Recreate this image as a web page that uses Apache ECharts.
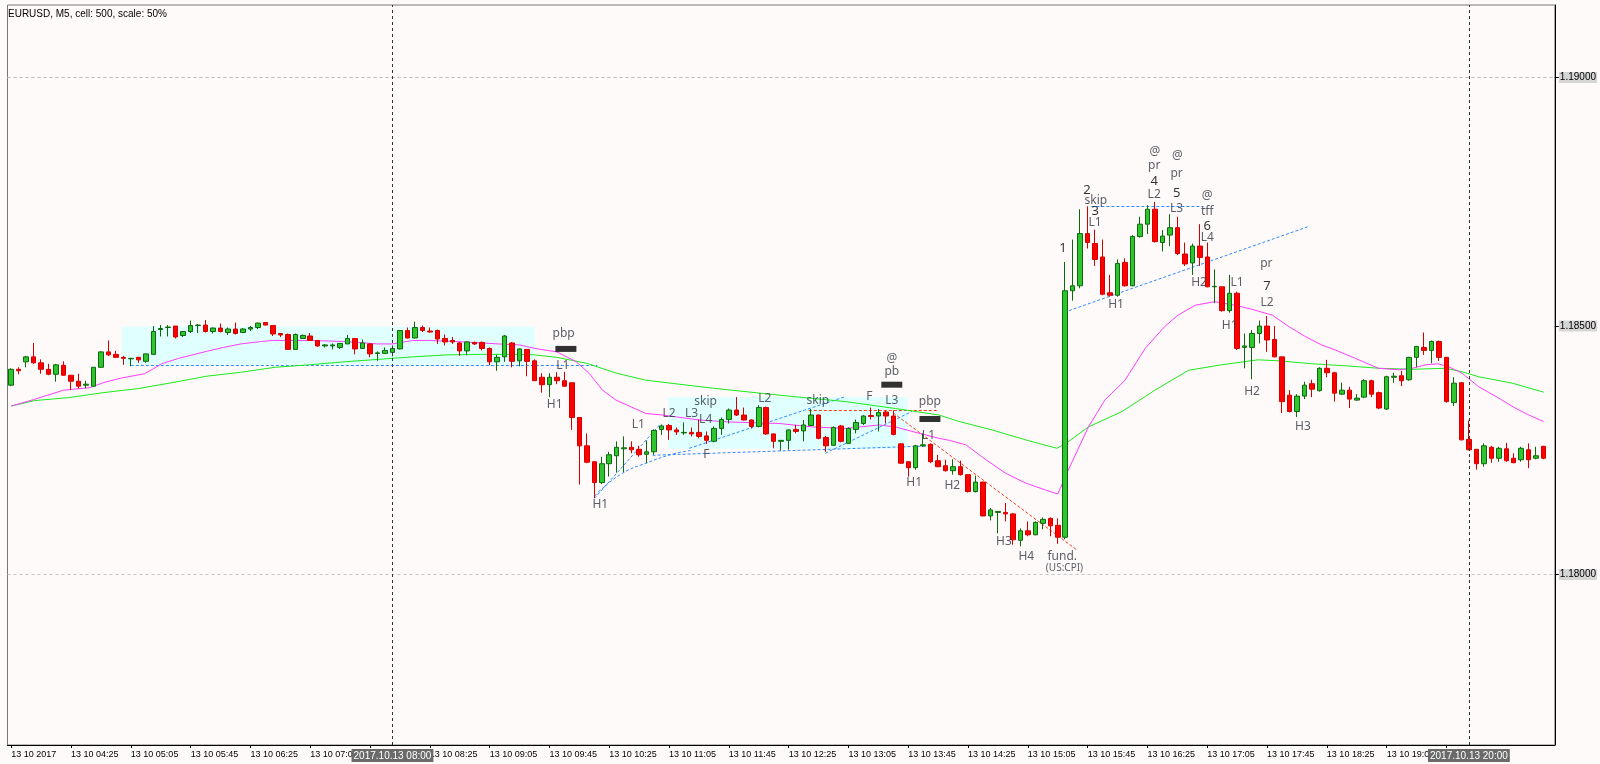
<!DOCTYPE html>
<html><head><meta charset="utf-8">
<script src="https://cdn.jsdelivr.net/npm/echarts@6/dist/echarts.min.js"></script>
<style>html,body{margin:0;padding:0;background:#fffafa;}#c{width:1600px;height:764px;}</style>
</head><body><div id="c"></div>
<script>
// ---------- DATA ----------
const opens=[1.18381,1.18413,1.18428,1.18438,1.18426,1.18413,1.18403,1.18421,1.18401,1.18389,
1.18381,1.18379,1.18417,1.18448,1.18443,1.18437,1.18434,1.18437,1.18429,1.18443,
1.18493,1.18497,1.18500,1.18481,1.18489,1.18501,1.18502,1.18489,1.18496,1.18487,
1.18494,1.18487,1.18494,1.18497,1.18507,1.18501,1.18485,1.18483,1.18453,1.18475,
1.18480,1.18471,1.18460,1.18460,1.18457,1.18464,1.18475,1.18455,1.18464,1.18445,
1.18445,1.18447,1.18454,1.18491,1.18476,1.18497,1.18490,1.18491,1.18475,1.18471,
1.18466,1.18450,1.18467,1.18467,1.18455,1.18428,1.18438,1.18466,1.18430,1.18453,
1.18430,1.18397,1.18382,1.18397,1.18390,1.18386,1.18316,1.18259,1.18227,1.18185,
1.18223,1.18239,1.18253,1.18256,1.18252,1.18242,1.18247,1.18292,1.18300,1.18291,
1.18285,1.18286,1.18286,1.18279,1.18268,1.18294,1.18312,1.18331,1.18321,1.18311,
1.18298,1.18336,1.18283,1.18268,1.18270,1.18292,1.18289,1.18300,1.18321,1.18276,
1.18260,1.18299,1.18264,1.18292,1.18304,1.18320,1.18319,1.18327,1.18319,1.18263,
1.18227,1.18215,1.18259,1.18262,1.18229,1.18219,1.18209,1.18217,1.18201,1.18167,
1.18186,1.18118,1.18125,1.18125,1.18122,1.18069,1.18088,1.18080,1.18103,1.18113,
1.18099,1.18075,1.18571,1.18581,1.18686,1.18666,1.18639,1.18567,1.18562,1.18628,
1.18581,1.18680,1.18705,1.18735,1.18668,1.18683,1.18698,1.18645,1.18627,1.18661,
1.18639,1.18579,1.18579,1.18531,1.18566,1.18457,1.18457,1.18485,1.18500,1.18473,
1.18438,1.18361,1.18328,1.18359,1.18384,1.18370,1.18415,1.18406,1.18363,1.18371,
1.18351,1.18357,1.18390,1.18366,1.18333,1.18397,1.18400,1.18392,1.18437,1.18457,
1.18451,1.18469,1.18437,1.18346,1.18386,1.18272,1.18252,1.18223,1.18256,1.18234,
1.18253,1.18234,1.18231,1.18251,1.18234,1.18258];
const closes=[1.18413,1.18410,1.18438,1.18426,1.18413,1.18403,1.18422,1.18401,1.18389,1.18379,
1.18383,1.18417,1.18448,1.18442,1.18437,1.18435,1.18435,1.18432,1.18444,1.18489,
1.18495,1.18498,1.18478,1.18489,1.18501,1.18502,1.18489,1.18496,1.18489,1.18494,
1.18485,1.18494,1.18497,1.18506,1.18502,1.18484,1.18482,1.18453,1.18483,1.18481,
1.18471,1.18460,1.18462,1.18462,1.18465,1.18475,1.18454,1.18466,1.18444,1.18446,
1.18451,1.18455,1.18491,1.18476,1.18497,1.18491,1.18488,1.18474,1.18468,1.18468,
1.18450,1.18468,1.18464,1.18455,1.18428,1.18437,1.18480,1.18429,1.18454,1.18429,
1.18390,1.18382,1.18397,1.18390,1.18379,1.18316,1.18259,1.18226,1.18185,1.18223,
1.18241,1.18256,1.18255,1.18251,1.18241,1.18247,1.18290,1.18299,1.18291,1.18287,
1.18286,1.18283,1.18278,1.18270,1.18294,1.18312,1.18331,1.18321,1.18311,1.18298,
1.18336,1.18283,1.18268,1.18270,1.18291,1.18288,1.18301,1.18321,1.18274,1.18259,
1.18296,1.18268,1.18294,1.18306,1.18319,1.18318,1.18326,1.18319,1.18282,1.18224,
1.18215,1.18259,1.18261,1.18227,1.18217,1.18209,1.18217,1.18201,1.18167,1.18186,
1.18118,1.18130,1.18127,1.18122,1.18070,1.18088,1.18080,1.18105,1.18111,1.18098,
1.18075,1.18571,1.18581,1.18686,1.18668,1.18634,1.18564,1.18562,1.18626,1.18581,
1.18680,1.18705,1.18735,1.18670,1.18681,1.18698,1.18646,1.18625,1.18661,1.18638,
1.18579,1.18580,1.18531,1.18566,1.18455,1.18460,1.18485,1.18500,1.18472,1.18438,
1.18348,1.18328,1.18359,1.18381,1.18373,1.18415,1.18406,1.18365,1.18371,1.18353,
1.18355,1.18390,1.18363,1.18335,1.18398,1.18399,1.18390,1.18437,1.18459,1.18451,
1.18469,1.18437,1.18348,1.18385,1.18271,1.18251,1.18223,1.18259,1.18234,1.18254,
1.18229,1.18225,1.18254,1.18231,1.18239,1.18234];
const highs=[1.18415,1.18417,1.18440,1.18466,1.18433,1.18424,1.18424,1.18429,1.18401,1.18404,
1.18390,1.18417,1.18449,1.18471,1.18450,1.18440,1.18436,1.18438,1.18445,1.18500,
1.18502,1.18502,1.18500,1.18490,1.18511,1.18504,1.18512,1.18497,1.18505,1.18497,
1.18507,1.18496,1.18500,1.18507,1.18508,1.18502,1.18486,1.18485,1.18485,1.18483,
1.18486,1.18471,1.18464,1.18465,1.18466,1.18482,1.18476,1.18473,1.18466,1.18449,
1.18457,1.18461,1.18492,1.18497,1.18509,1.18501,1.18497,1.18493,1.18483,1.18478,
1.18468,1.18469,1.18469,1.18469,1.18457,1.18442,1.18482,1.18468,1.18455,1.18454,
1.18433,1.18405,1.18405,1.18407,1.18408,1.18386,1.18316,1.18284,1.18227,1.18237,
1.18247,1.18268,1.18278,1.18268,1.18259,1.18270,1.18292,1.18302,1.18303,1.18296,
1.18306,1.18296,1.18312,1.18288,1.18298,1.18316,1.18334,1.18357,1.18336,1.18312,
1.18341,1.18338,1.18284,1.18270,1.18292,1.18301,1.18311,1.18333,1.18322,1.18279,
1.18298,1.18301,1.18296,1.18312,1.18321,1.18336,1.18333,1.18330,1.18330,1.18264,
1.18228,1.18261,1.18284,1.18264,1.18241,1.18231,1.18232,1.18229,1.18202,1.18199,
1.18187,1.18134,1.18127,1.18144,1.18124,1.18093,1.18107,1.18107,1.18115,1.18115,
1.18113,1.18629,1.18674,1.18735,1.18741,1.18694,1.18674,1.18603,1.18634,1.18636,
1.18683,1.18720,1.18743,1.18750,1.18693,1.18725,1.18720,1.18668,1.18666,1.18705,
1.18668,1.18614,1.18579,1.18603,1.18569,1.18485,1.18492,1.18511,1.18520,1.18500,
1.18438,1.18371,1.18363,1.18388,1.18392,1.18417,1.18432,1.18408,1.18386,1.18378,
1.18363,1.18393,1.18392,1.18368,1.18400,1.18406,1.18410,1.18438,1.18460,1.18487,
1.18471,1.18471,1.18438,1.18397,1.18386,1.18310,1.18252,1.18264,1.18259,1.18257,
1.18265,1.18244,1.18257,1.18264,1.18257,1.18259];
const lows=[1.18379,1.18403,1.18417,1.18424,1.18404,1.18401,1.18388,1.18400,1.18371,1.18374,
1.18375,1.18378,1.18416,1.18440,1.18436,1.18422,1.18419,1.18426,1.18426,1.18442,
1.18479,1.18479,1.18475,1.18478,1.18486,1.18486,1.18487,1.18485,1.18487,1.18482,
1.18483,1.18486,1.18490,1.18494,1.18501,1.18480,1.18478,1.18453,1.18453,1.18475,
1.18471,1.18458,1.18457,1.18453,1.18454,1.18464,1.18443,1.18454,1.18437,1.18430,
1.18444,1.18439,1.18453,1.18475,1.18475,1.18488,1.18487,1.18464,1.18461,1.18464,
1.18440,1.18441,1.18462,1.18451,1.18421,1.18410,1.18428,1.18417,1.18419,1.18399,
1.18390,1.18366,1.18357,1.18383,1.18378,1.18291,1.18181,1.18224,1.18154,1.18182,
1.18197,1.18205,1.18206,1.18244,1.18237,1.18224,1.18241,1.18281,1.18271,1.18281,
1.18281,1.18278,1.18274,1.18263,1.18266,1.18281,1.18304,1.18319,1.18310,1.18294,
1.18296,1.18281,1.18254,1.18249,1.18251,1.18284,1.18268,1.18299,1.18272,1.18247,
1.18259,1.18266,1.18263,1.18284,1.18301,1.18312,1.18288,1.18304,1.18280,1.18223,
1.18197,1.18211,1.18257,1.18224,1.18216,1.18207,1.18201,1.18199,1.18165,1.18165,
1.18117,1.18109,1.18083,1.18107,1.18060,1.18057,1.18077,1.18079,1.18091,1.18077,
1.18062,1.18071,1.18551,1.18576,1.18656,1.18621,1.18562,1.18559,1.18559,1.18579,
1.18580,1.18678,1.18685,1.18668,1.18650,1.18661,1.18643,1.18621,1.18603,1.18621,
1.18578,1.18546,1.18529,1.18527,1.18452,1.18415,1.18393,1.18465,1.18448,1.18437,
1.18325,1.18326,1.18317,1.18353,1.18357,1.18368,1.18397,1.18348,1.18361,1.18335,
1.18350,1.18355,1.18357,1.18333,1.18331,1.18386,1.18379,1.18390,1.18417,1.18442,
1.18425,1.18430,1.18346,1.18339,1.18270,1.18250,1.18211,1.18217,1.18225,1.18227,
1.18227,1.18224,1.18227,1.18214,1.18232,1.18232];

// bar times (M5 bars starting 03:45) and bottom tick labels (one every 8 bars)
const firstBarMinute = 3*60+45;
const tickLabels=['13 10 2017','13 10 04:25','13 10 05:05','13 10 05:45','13 10 06:25','13 10 07:05','13 10 07:45',
'13 10 08:25','13 10 09:05','13 10 09:45','13 10 10:25','13 10 11:05','13 10 11:45','13 10 12:25','13 10 13:05',
'13 10 13:45','13 10 14:25','13 10 15:05','13 10 15:45','13 10 16:25','13 10 17:05','13 10 17:45','13 10 18:25',
'13 10 19:05','13 10 19:45'];
const priceTicks=[1.18,1.185,1.19];
const timeMarks=[[51,'2017.10.13 08:00'],[195,'2017.10.13 20:00']];

// moving averages: [bar position, price]
const maFast=[[0,1.18339],[3,1.18352],[7,1.18371],[10.5,1.18376],[12.3,1.18386],[14.6,1.18395],[17.8,1.18404],[19,1.18414],[20.1,1.18424],[22.4,1.18435],[26.1,1.18449],[28.4,1.18457],[30.7,1.18464],[33.5,1.18469],[35,1.18471],[40,1.18471],[44.5,1.18469],[49,1.18464],[51,1.18464],[53.7,1.18471],[56,1.18471],[60.6,1.18468],[65.2,1.18464],[68,1.18462],[70,1.18455],[73,1.18448],[75.6,1.18428],[77.3,1.18405],[79.1,1.18371],[80.9,1.18351],[84.9,1.18324],[87.1,1.18321],[92,1.18311],[96,1.18307],[102.7,1.18304],[107.2,1.18297],[111.6,1.18294],[116.1,1.18301],[118.3,1.18297],[120.5,1.18288],[124.1,1.18274],[125.5,1.18270],[127.7,1.18261],[130.4,1.18231],[133,1.18204],[135.7,1.18184],[138.4,1.18170],[140,1.18162],[141.4,1.18210],[144.1,1.18297],[146.3,1.18351],[149,1.18391],[151.7,1.18455],[154.3,1.18499],[156.1,1.18522],[158.4,1.18542],[161,1.18549],[163.7,1.18542],[165.9,1.18534],[168.7,1.18522],[170.9,1.18499],[173.1,1.18479],[175.3,1.18462],[177.1,1.18452],[179.8,1.18435],[182.9,1.18415],[185.6,1.18412],[187.4,1.18415],[189.2,1.18422],[190.9,1.18424],[192.3,1.18418],[194.1,1.18405],[196.3,1.18378],[199,1.18355],[201.2,1.18335],[203,1.18321],[205,1.18308]];
const maSlow=[[0,1.18339],[3.1,1.18350],[7.7,1.18356],[12.3,1.18366],[16.9,1.18374],[21.5,1.18386],[26.1,1.18399],[30.7,1.18407],[35.3,1.18417],[39.9,1.18422],[44.5,1.18428],[49.1,1.18433],[53.7,1.18438],[58.3,1.18442],[62.9,1.18443],[67.5,1.18443],[70,1.18442],[73,1.18437],[77,1.18425],[81,1.18405],[84.9,1.18391],[93.8,1.18375],[102.7,1.18361],[111.6,1.18348],[118.3,1.18334],[124.1,1.18321],[126.8,1.18308],[131.2,1.18291],[135.7,1.18271],[137.4,1.18264],[139.9,1.18254],[141.2,1.18265],[144.1,1.18297],[148.6,1.18328],[153,1.18371],[157.5,1.18411],[161.9,1.18422],[166.8,1.18432],[169.6,1.18430],[174.1,1.18424],[178.5,1.18420],[183,1.18415],[187.4,1.18413],[191.9,1.18415],[194.1,1.18408],[196.3,1.18398],[200.8,1.18385],[205,1.18367]];

// drawn objects: shaded zones [x1,price1,x2,price2]
const zones=[[14.8,1.18499,70,1.18422],[87.9,1.18357,119.9,1.18253]];
const blueLines=[[16,1.18422,78.4,1.18422],[78,1.18153,86.9,1.18304],[85.8,1.18240,123.2,1.18259],
[90.7,1.18254,111.6,1.18358],[108.9,1.18244,120.5,1.18328],[144.5,1.18741,159.5,1.18741],[141.5,1.18531,173.5,1.18700]];
const blueCurve=[[78.1,1.18158],[78.6,1.18167],[81.8,1.18204],[84.9,1.18224],[88.4,1.18242],[91,1.18250]];
const redLines=[[106.7,1.18331,124.1,1.18331],[118,1.18325,142.5,1.18050]];
const blockMarks=[[74.2,1.18454],[117.8,1.18382],[122.9,1.18313]];
const noteText=['pbp','L1','H1','H1','L1','L2','L3','skip','L4','L2','skip','F','F','L3','@','pb','pbp','L1','H1','H2','H3','H4','fund.','(US:CPI)',
'1','2','skip','3','L1','H1','@','pr','4','L2','@','pr','5','L3','@','tff','6','L4','H2','L1','pr','7','L2','H1','H2','H3'];
const noteX=[73.9,73.8,72.7,78.8,83.9,88.0,91.0,92.9,92.9,100.8,107.9,93.0,114.8,117.8,117.8,117.8,122.9,122.7,120.8,125.9,132.8,135.8,140.6,140.9,
140.7,143.9,145.1,145.0,145.0,147.8,153.0,152.9,152.9,152.9,156.0,155.9,155.9,155.9,160.0,160.0,160.0,160.0,158.9,164.0,167.9,168.0,168.0,163.0,166.0,172.8];
const noteY=[1.18484,1.18420,1.18342,1.18141,1.18301,1.18324,1.18324,1.18348,1.18312,1.18355,1.18351,1.18242,1.18359,1.18351,1.18435,1.18408,1.18348,1.18279,1.18186,1.18178,1.18067,1.18037,1.18037,1.18012,
1.18656,1.18773,1.18753,1.18730,1.18708,1.18543,1.18851,1.18822,1.18792,1.18765,1.18843,1.18806,1.18767,1.18736,1.18763,1.18730,1.18701,1.18679,1.18587,1.18587,1.18626,1.18580,1.18548,1.18500,1.18369,1.18297];

// ---------- BUILD ----------
const N=opens.length;
const categories=[];
for(let i=0;i<N;i++){const m=firstBarMinute+5*i;categories.push(String(Math.floor(m/60)).padStart(2,'0')+':'+String(m%60).padStart(2,'0'));}
categories.push('');
const lastTick=(tickLabels.length-1)*8;
const showTick=(i)=>i%8===0&&i<=lastTick;
const candleData=opens.map((o,i)=>[o,closes[i],lows[i],highs[i]]);
const seg=(a)=>[{coord:[a[0],a[1]]},{coord:[a[2],a[3]]}];
const notes=noteText.map((t,i)=>{
  const d={name:t,value:[noteX[i],noteY[i]]};
  if(/^\d$/.test(t)) d.label={color:'#000',fontSize:13};
  if(t==='(US:CPI)') d.label={fontSize:10};
  return d;
});
const FONT='Liberation Sans';
const chart=echarts.init(document.getElementById('c'),null,{renderer:'canvas',width:1600,height:764});
chart.setOption({
  animation:false,
  backgroundColor:'#fffafa',
  title:{text:'EURUSD, M5, cell: 500, scale: 50%',left:8,top:9,padding:0,
    textStyle:{fontSize:10,fontWeight:'normal',color:'#000',fontFamily:FONT}},
  grid:{left:7.5,right:43,top:5,bottom:19,show:true,borderColor:'#777',borderWidth:1,backgroundColor:'transparent'},
  xAxis:[{
    type:'category',data:categories,boundaryGap:true,
    axisLine:{show:true,onZero:false,lineStyle:{color:'#000',width:1}},
    axisTick:{show:true,alignWithLabel:true,interval:(i)=>showTick(i),length:3,lineStyle:{color:'#000'}},
    axisLabel:{interval:(i)=>showTick(i),formatter:(v,i)=>tickLabels[i/8]||'',align:'left',
      fontSize:9,color:'#000',margin:5,fontFamily:FONT},
    splitLine:{show:false}
  },{
    type:'value',min:-0.5,max:N+0.5,show:false,axisLine:{onZero:false}
  }],
  yAxis:{
    type:'value',position:'right',min:1.17657,max:1.19146,
    splitLine:{show:false},
    axisLine:{show:true,onZero:false,lineStyle:{color:'#000'}},
    axisTick:{show:true,customValues:priceTicks,length:4,lineStyle:{color:'#000'}},
    axisLabel:{customValues:priceTicks,formatter:(v)=>v.toFixed(5),fontSize:10,color:'#000',
      backgroundColor:'#d6d6d6',padding:[1,1,0,1],margin:4,fontFamily:FONT}
  },
  series:[
    {type:'line',xAxisIndex:1,data:[[-5,1.18]],symbol:'none',silent:true,z:1,
      markArea:{silent:true,z:1,itemStyle:{color:'#e0ffff'},data:zones.map(a=>seg(a))},
      markLine:{silent:true,z:1,symbol:['none','none'],label:{show:false},
        lineStyle:{color:'#c4c4c4',type:[3,3],width:1},
        data:priceTicks.map(v=>({yAxis:v}))}},
    {type:'line',xAxisIndex:1,data:maSlow,symbol:'none',z:2,silent:true,
      lineStyle:{color:'#1aeb1a',width:1}},
    {type:'line',xAxisIndex:1,data:maFast,symbol:'none',z:2,silent:true,
      lineStyle:{color:'#ff3cff',width:1}},
    {type:'line',xAxisIndex:1,data:blueCurve,symbol:'none',z:2,silent:true,smooth:true,
      lineStyle:{color:'#2f8cff',type:[3,2],width:1},
      markLine:{silent:true,z:2,symbol:['none','none'],label:{show:false},
        lineStyle:{color:'#2f8cff',type:[3,2],width:1},data:blueLines.map(seg)}},
    {type:'line',xAxisIndex:1,data:[[-5,1.18]],symbol:'none',silent:true,z:2,
      markLine:{silent:true,z:2,symbol:['none','none'],label:{show:false},
        lineStyle:{color:'#ff3a1a',type:[3,2],width:1},data:redLines.map(seg)}},
    {type:'candlestick',xAxisIndex:0,data:candleData,barWidth:5,z:3,silent:true,
      itemStyle:{color:'#2fc52f',color0:'#ff0000',borderColor:'#0c6a0c',borderColor0:'#d40000',borderWidth:1}},
    {type:'scatter',xAxisIndex:1,data:blockMarks,symbol:'rect',symbolSize:[21,6],z:4,silent:true,
      itemStyle:{color:'#000'}},
    {type:'scatter',xAxisIndex:1,data:notes,symbolSize:1,z:5,silent:true,
      itemStyle:{color:'rgba(0,0,0,0)'},
      label:{show:true,position:'inside',formatter:'{b}',color:'#2f3640',fontSize:12,fontFamily:'Noto Sans'}},
    {type:'line',xAxisIndex:1,data:[[-5,1.18]],symbol:'none',silent:true,z:6,
      markLine:{silent:true,z:6,symbol:['none','none'],
        lineStyle:{color:'#333',type:[3,3],width:1},
        label:{show:true,position:'start',distance:4,color:'#fff',backgroundColor:'#6a6a6a',
          padding:[2,2,1,2],fontSize:10,fontFamily:FONT},
        data:timeMarks.map(t=>({xAxis:t[0],label:{formatter:t[1]}}))}}
  ]
});
</script></body></html>
